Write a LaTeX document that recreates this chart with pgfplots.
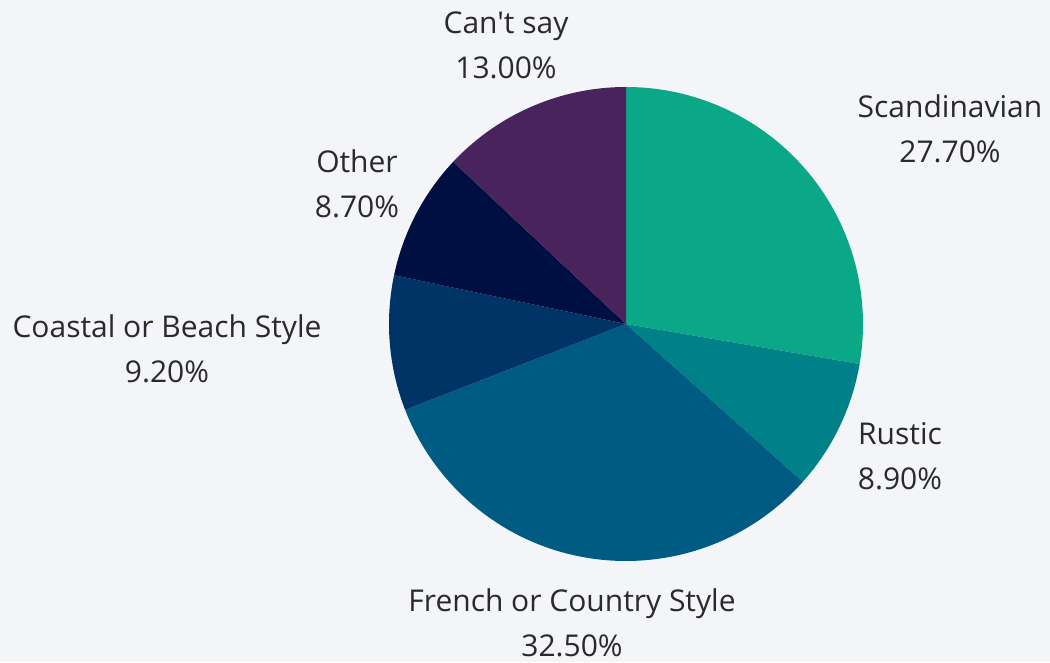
\documentclass[border=0pt]{standalone}
\usepackage{pgfplots}
\usepackage{pgfplotstable}
\pgfplotsset{compat=1.18}
\usepackage{fontspec}
\setmainfont{Open Sans}[Ligatures=TeXOff]
\definecolor{bg}{HTML}{F3F5F9}
\definecolor{txt}{HTML}{2A2A2A}
\definecolor{cA}{HTML}{0BA888}
\definecolor{cB}{HTML}{00818A}
\definecolor{cC}{HTML}{005B82}
\definecolor{cD}{HTML}{003366}
\definecolor{cE}{HTML}{000F42}
\definecolor{cF}{HTML}{48235C}
\pgfplotstableread[col sep=comma]{
label,value,color,lx,ly
Scandinavian,27.7,cA,950,533
Rustic,8.9,cB,900,206
French or Country Style,32.5,cC,572,39
Coastal or Beach Style,9.2,cD,167,313
Other,8.7,cE,357,478
Can't say,13.0,cF,506,617
}\piedata
\begin{document}
\begin{tikzpicture}
\fill[bg] (0,0) rectangle (1050pt,662pt);
\begin{axis}[
  at={(0,0)}, anchor=origin,
  scale only axis, width=1050pt, height=662pt,
  xmin=0, xmax=1050, ymin=0, ymax=662,
  axis lines=none, clip=false,
  /pgf/number format/assume math mode=true,
]
\pgfplotstablegetrowsof{\piedata}
\pgfmathtruncatemacro{\N}{\pgfplotsretval-1}
\def\cum{0}
\pgfplotsforeachungrouped \i in {0,...,\N}{
  \pgfplotstablegetelem{\i}{value}\of{\piedata}\let\v\pgfplotsretval
  \pgfplotstablegetelem{\i}{color}\of{\piedata}\let\c\pgfplotsretval
  \pgfplotstablegetelem{\i}{label}\of{\piedata}\let\l\pgfplotsretval
  \pgfplotstablegetelem{\i}{lx}\of{\piedata}\let\lx\pgfplotsretval
  \pgfplotstablegetelem{\i}{ly}\of{\piedata}\let\ly\pgfplotsretval
  \pgfmathsetmacro{\a}{90-3.6*\cum}
  \pgfmathsetmacro{\b}{90-3.6*(\cum+\v)}
  \edef\temp{\noexpand\fill[\c] (axis cs:626,338) -- ++(\a:237pt) arc[start angle=\a, end angle=\b, radius=237pt] -- cycle;
    \noexpand\node[align=center, text=txt, font=\noexpand\fontsize{30}{45}\noexpand\selectfont, inner sep=0pt] at (axis cs:\lx,\ly) {\l\noexpand\\\noexpand\pgfmathprintnumber[fixed, fixed zerofill, precision=2, assume math mode=true]{\v}\noexpand\%};}
  \temp
  \pgfmathsetmacro{\cum}{\cum+\v}
}
\end{axis}
\end{tikzpicture}
\end{document}
